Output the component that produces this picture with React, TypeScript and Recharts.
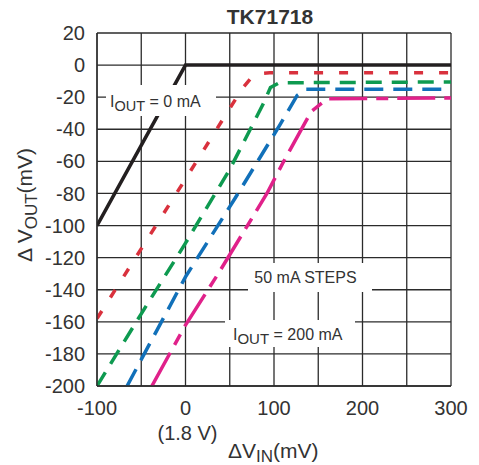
import { CartesianGrid, Line, LineChart, XAxis, YAxis } from 'recharts';

const W = 479;
const H = 465;
const FONT = 'Arial, "Liberation Sans", Helvetica, sans-serif';
const TEXT = '#333333';

// ΔVIN (mV) grid / tick positions
const xTicks = [-100, -50, 0, 50, 100, 150, 200, 250, 300];
// ΔVOUT (mV)
const yTicks = [20, 0, -20, -40, -60, -80, -100, -120, -140, -160, -180, -200];

// IOUT = 0 mA
const out0X = [-100, 0, 300];
const out0Y = [-100, 0, 0];
// 50 mA
const out50X = [-100, 0, 50, 65, 75, 84, 95, 300];
const out50Y = [-158, -71, -27, -14, -7.5, -5.3, -4.8, -4.8];
// 100 mA
const out100X = [-100, -50, 0, 50, 88, 96, 106, 300];
const out100Y = [-200, -155, -111, -65, -24, -14, -11, -10.5];
// 150 mA
const out150X = [-66, 0, 56, 107, 126, 136, 300];
const out150Y = [-200, -132, -83, -37, -19, -15, -15];
// 200 mA
const out200X = [-38, 0, 37, 92, 110, 142, 160, 300];
const out200Y = [-200, -162, -130, -80, -61, -29, -21, -20.5];

const zip = (xs: number[], ys: number[]) => xs.map((x, i) => ({ x, y: ys[i] }));

const series = [
  { name: '0 mA', data: zip(out0X, out0Y), color: '#231f20', dash: undefined },
  { name: '50 mA', data: zip(out50X, out50Y), color: '#d9313d', dash: '9 16' },
  { name: '100 mA', data: zip(out100X, out100Y), color: '#0e9a50', dash: '16 10' },
  { name: '150 mA', data: zip(out150X, out150Y), color: '#1170b9', dash: '19 10' },
  { name: '200 mA', data: zip(out200X, out200Y), color: '#e0218a', dash: '38 9 12 9' },
];

function Annotations() {
  return (
    <svg
      width={W}
      height={H}
      style={{ position: 'absolute', left: 0, top: 0, pointerEvents: 'none', fontFamily: FONT }}
    >
      <text x={270} y={23.5} textAnchor="middle" fontSize={21} fontWeight="bold" fill={TEXT}>
        TK71718
      </text>

      <text transform="translate(31.5,205) rotate(-90)" textAnchor="middle" fontSize={21} fill={TEXT}>
        Δ V<tspan dy={5} fontSize={17}>OUT</tspan>
        <tspan dy={-5}>(mV)</tspan>
      </text>

      <text x={187.5} y={439.5} textAnchor="middle" fontSize={20} fill={TEXT}>
        (1.8 V)
      </text>
      <text x={228} y={458} fontSize={21} fill={TEXT}>
        ΔV<tspan dy={3.5} fontSize={17}>IN</tspan>
        <tspan dy={-3.5}>(mV)</tspan>
      </text>

      <rect x={106} y={85} width={110} height={31} fill="#fff" />
      <text x={110} y={107} fontSize={16} fill={TEXT}>
        I<tspan dy={4} fontSize={14.5}>OUT</tspan>
        <tspan dy={-4}> = 0 mA</tspan>
      </text>

      <rect x={248} y={263} width={124} height={29} fill="#fff" />
      <text x={305.5} y={283} textAnchor="middle" fontSize={16} fill={TEXT}>
        50 mA STEPS
      </text>

      <rect x={225} y={320} width={130} height={27} fill="#fff" />
      <text x={233} y={340} fontSize={16} fill={TEXT}>
        I<tspan dy={4} fontSize={15}>OUT</tspan>
        <tspan dy={-4}> = 200 mA</tspan>
      </text>
    </svg>
  );
}

export default function App() {
  return (
    <div style={{ position: 'absolute', left: 0, top: 0, width: W, height: H, background: '#fff' }}>
      <LineChart
        width={W}
        height={H}
        margin={{ top: 33, right: 28, bottom: 0, left: 0 }}
        style={{ fontFamily: FONT }}
      >
        <CartesianGrid stroke="#2b2b2b" strokeWidth={1.3} />
        <XAxis
          dataKey="x"
          type="number"
          domain={[-100, 300]}
          ticks={xTicks}
          interval={0}
          tickFormatter={(v: number) => (v % 100 === 0 ? String(v) : '')}
          tickLine={false}
          tickSize={0}
          tickMargin={15}
          axisLine={{ stroke: '#2b2b2b', strokeWidth: 1.3 }}
          tick={{ fill: TEXT, fontSize: 20 }}
          height={79}
          allowDataOverflow
        />
        <YAxis
          type="number"
          domain={[-200, 20]}
          ticks={yTicks}
          interval={0}
          tickLine={false}
          tickSize={0}
          tickMargin={12}
          axisLine={{ stroke: '#2b2b2b', strokeWidth: 1.3 }}
          tick={{ fill: TEXT, fontSize: 20 }}
          width={97}
          allowDataOverflow
        />
        {series.map((s) => (
          <Line
            key={s.name}
            name={s.name}
            data={s.data}
            dataKey="y"
            type="linear"
            stroke={s.color}
            strokeWidth={3.5}
            strokeDasharray={s.dash}
            dot={false}
            activeDot={false}
            isAnimationActive={false}
          />
        ))}
      </LineChart>
      <Annotations />
    </div>
  );
}
